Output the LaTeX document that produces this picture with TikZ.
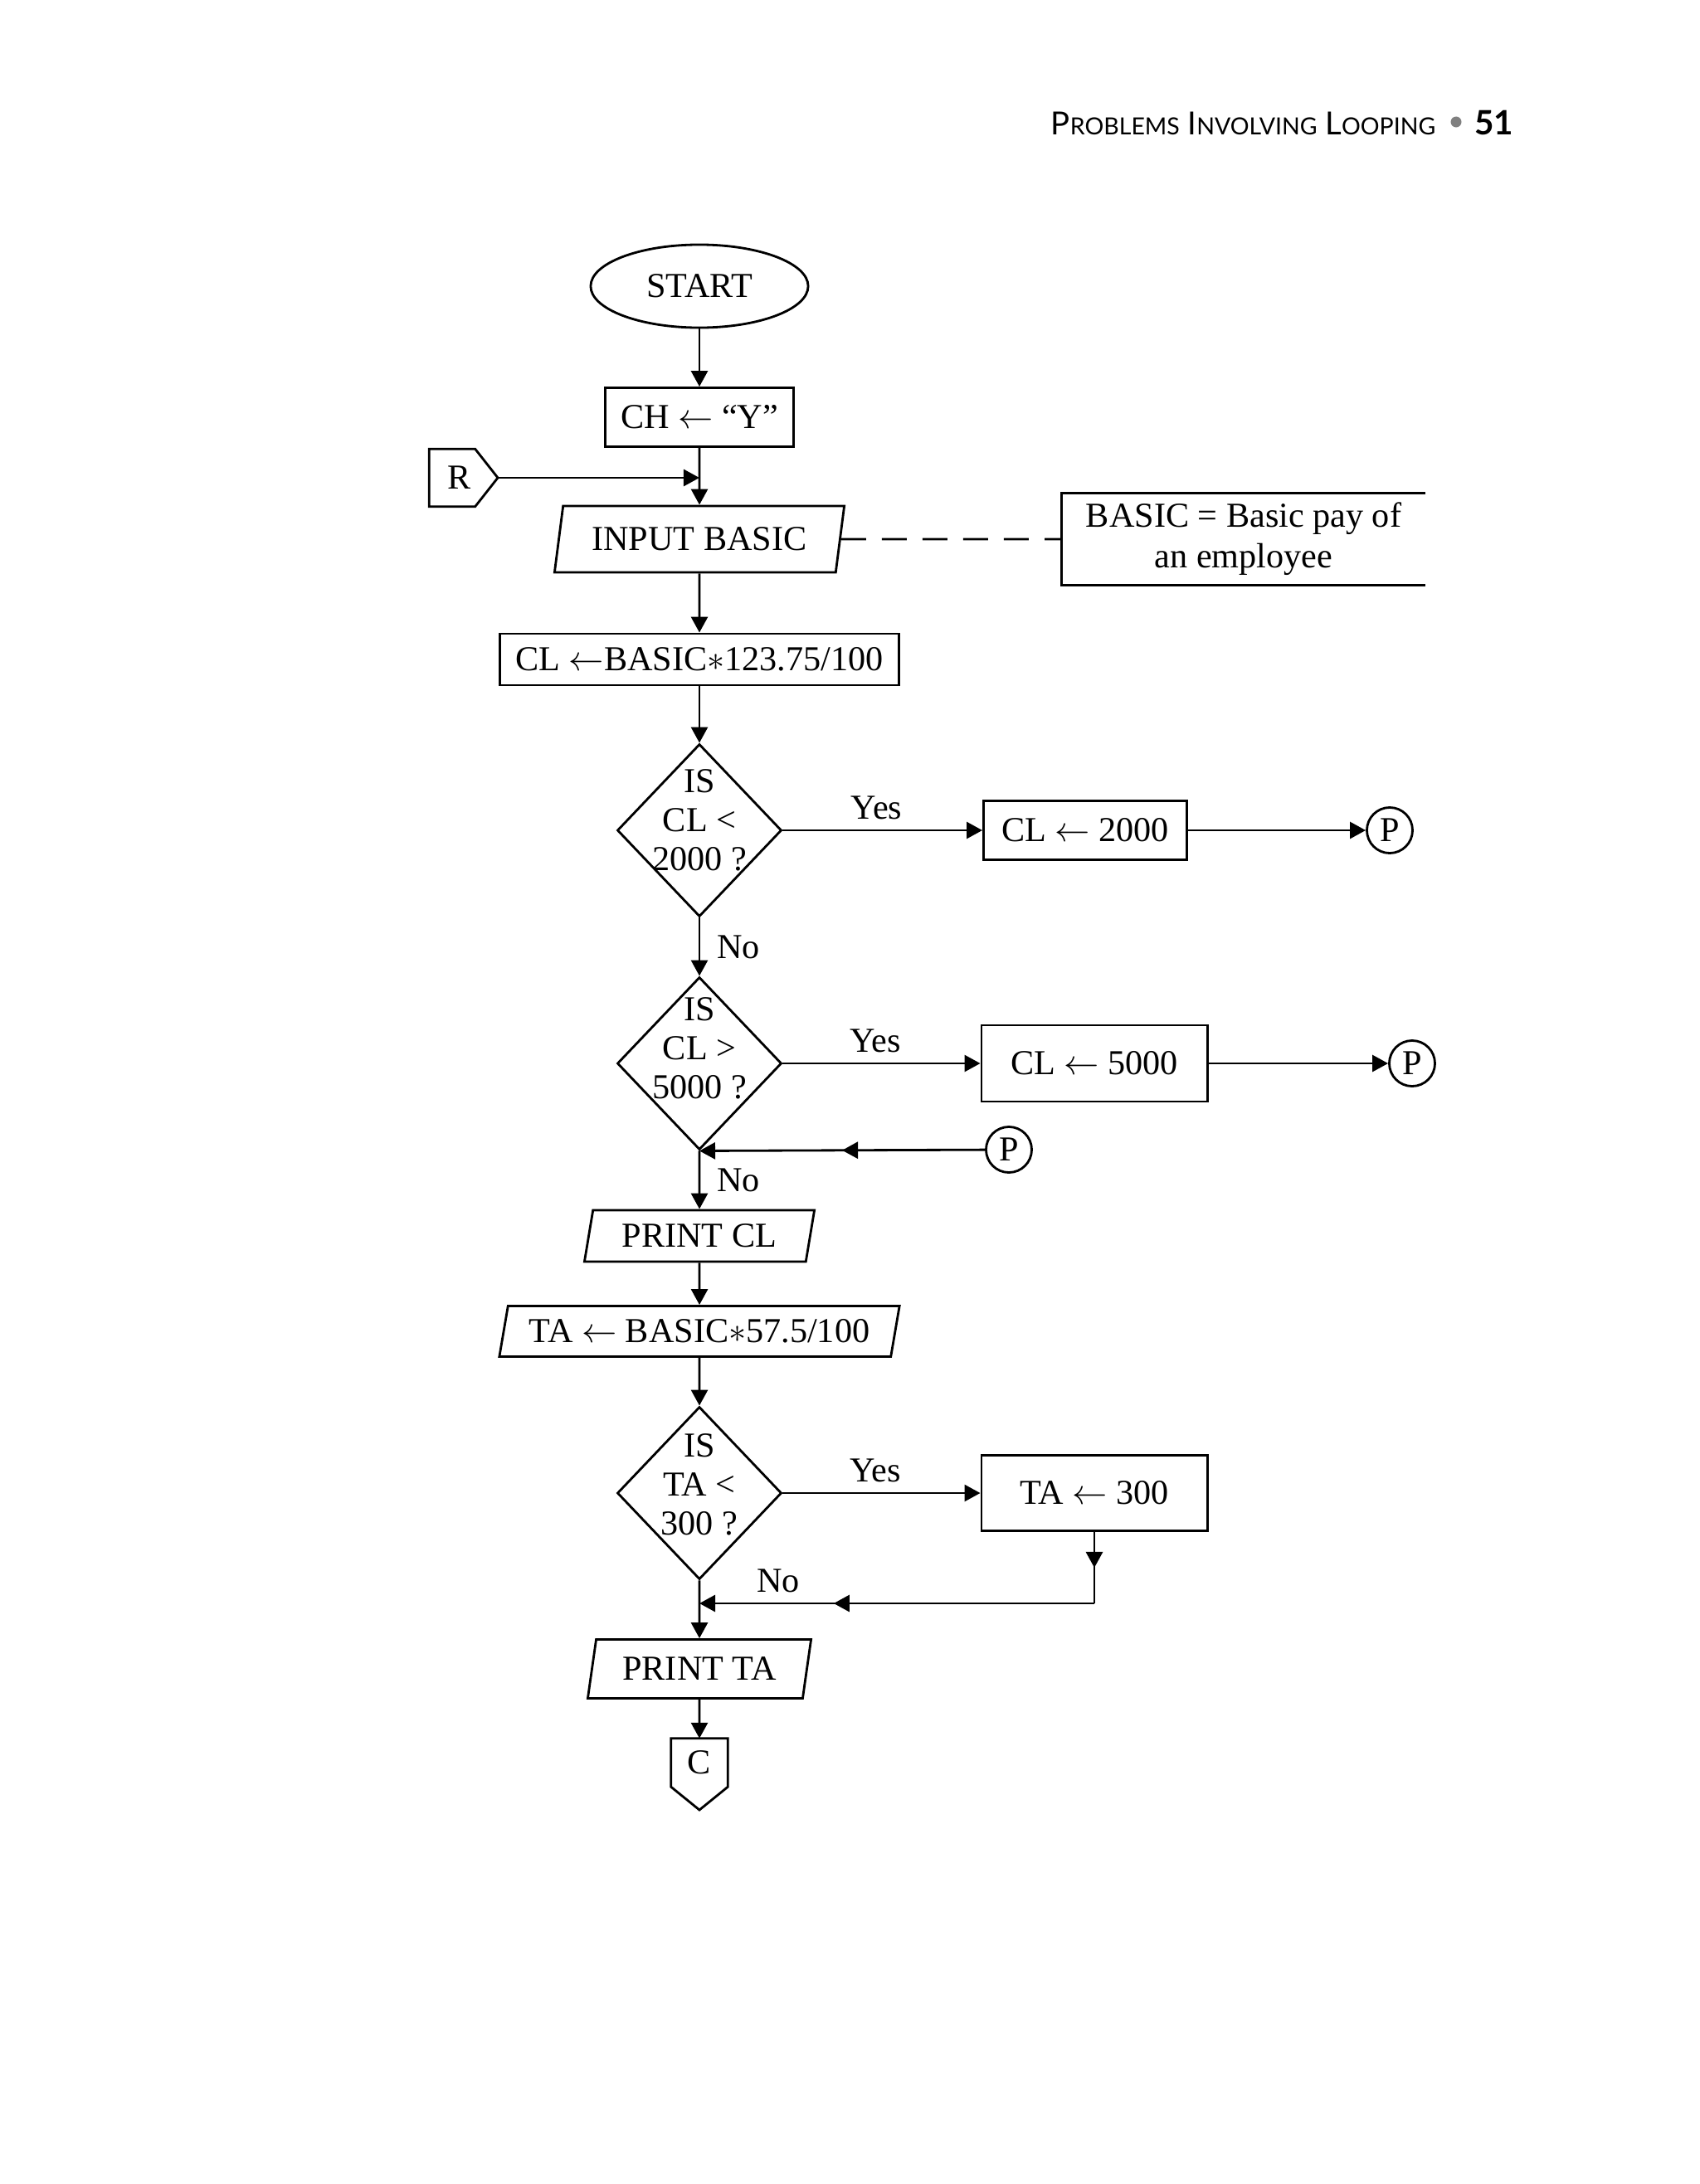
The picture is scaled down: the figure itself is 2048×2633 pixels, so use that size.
\documentclass[tikz,border=0pt]{standalone}
\usepackage{fontspec}
\setmainfont{Liberation Serif}
\newfontfamily\headfont{Lato}
\usepackage{tikz}
\usetikzlibrary{calc}
\usetikzlibrary{arrows.meta}
\usetikzlibrary{decorations.markings}
\usetikzlibrary{shapes.geometric}
\usetikzlibrary{positioning}

\begin{document}
\begin{tikzpicture}[x=0.01cm,y=-0.01cm,
            every node/.style={font=\fontsize{12}{13.4}\selectfont},
            plain/.style={line width=0.8pt},
            flow/.style={line width=0.8pt,-{Triangle[length=1.9mm,width=2mm]}},
            midtip/.style={postaction={decorate},decoration={markings,mark=at position #1 with {\arrow{Triangle[length=1.9mm,width=2mm]}}}},
            proc/.style={draw,line width=0.8pt,rectangle,inner sep=0pt},
            io/.style={draw,line width=0.8pt,trapezium,trapezium left angle=70,trapezium right angle=110,trapezium stretches body,inner sep=0pt},
            decision/.style={draw,line width=0.8pt,diamond,inner sep=0pt,minimum width=1.98cm,minimum height=2.08cm},
            dtext/.style={align=center,inner sep=0pt},
            conn/.style={draw,line width=0.8pt,circle,inner sep=0pt,minimum size=0.55cm},
            nolabel/.style={right,xshift=0.08cm}]
            \useasboundingbox (0,0) rectangle (2048,2633);

            \node[anchor=base east,inner sep=0pt,font=\headfont\fontsize{10.9}{13}\selectfont] (head) at (1731,162) {P{\fontsize{8.1}{10}\selectfont ROBLEMS} I{\fontsize{8.1}{10}\selectfont NVOLVING} L{\fontsize{8.1}{10}\selectfont OOPING}};
            \node[circle,fill=gray,inner sep=0pt,minimum size=0.13cm] (dot) at (1755,147) {};
            \node[anchor=base east,inner sep=0pt,font=\headfont\bfseries\fontsize{11.5}{14}\selectfont] (pg) at (1825,162) {51};

            \node[draw,line width=0.8pt,ellipse,inner sep=0pt,minimum width=2.62cm,minimum height=1cm] (start) at (843,345) {START};
            \node[proc,minimum width=2.27cm,minimum height=0.71cm] (ch) at (843,503) {CH $\leftarrow$ “Y”};
            \node[io,minimum width=3.49cm,minimum height=0.8cm] (inp) at (843,650) {INPUT BASIC};
            \node[inner sep=0pt,minimum width=4.37cm,minimum height=1.09cm,align=center,font=\fontsize{12}{14}\selectfont] (ann) at (1499,650) {BASIC = Basic pay of\\an employee};
            \node[proc,minimum width=4.8cm,minimum height=0.62cm] (cl) at (843,795) {CL $\leftarrow$BASIC$\ast$123.75/100};

            \node[decision] (d1) at (843,1001) {};
            \node[dtext] (d1t) at ([yshift=0.12cm]d1) {IS\\CL <\\2000 ?};
            \node[proc,minimum width=2.45cm,minimum height=0.71cm] (b1) at (1308,1001) {CL $\leftarrow$ 2000};
            \node[conn] (p1) at (1675,1001) {P};

            \node[decision] (d2) at (843,1282) {};
            \node[dtext] (d2t) at ([yshift=0.18cm]d2) {IS\\CL >\\5000 ?};
            \node[proc,minimum width=2.72cm,minimum height=0.92cm] (b2) at (1319,1282) {CL $\leftarrow$ 5000};
            \node[conn] (p2) at (1702,1282) {P};
            \node[conn] (p3) at (1216,1386) {P};

            \node[io,minimum width=2.77cm,minimum height=0.62cm] (pcl) at (843,1490) {PRINT CL};
            \node[io,minimum width=4.82cm,minimum height=0.61cm] (ta) at (843,1605) {TA $\leftarrow$ BASIC$\ast$57.5/100};

            \node[decision] (d3) at (843,1800) {};
            \node[dtext] (d3t) at ([yshift=0.1cm]d3) {IS\\TA <\\300 ?};
            \node[proc,minimum width=2.72cm,minimum height=0.91cm] (b3) at (1319,1800) {TA $\leftarrow$ 300};

            \node[io,minimum width=2.69cm,minimum height=0.71cm] (pta) at (843,2012) {PRINT TA};

            \coordinate (rtip) at (600,576);
            \node[inner sep=0pt,minimum width=0.56cm,minimum height=0.68cm] (rcon) at (546,576) {\hspace{0.16cm}R};
            \draw[plain] (rcon.north west) -- ([xshift=-0.02cm]rcon.north east) -- (rtip) -- ([xshift=-0.02cm]rcon.south east) -- (rcon.south west) -- cycle;

            \coordinate (ctip) at (843,2182);
            \node[inner sep=0pt,minimum width=0.67cm,minimum height=0.57cm] (ccon) at (843,2125) {\raisebox{-0.06cm}{C}};
            \draw[plain] (ccon.north west) -- (ccon.north east) -- (ccon.south east) -- (ctip) -- (ccon.south west) -- cycle;

            \draw[flow] (start) -- (ch);
            \draw[flow] (ch) -- (inp);
            \draw[flow] (rtip) -- (rtip -| ch.south);
            \draw[plain,dash pattern=on 0.3cm off 0.19cm] (inp.east) -- (ann.west);
            \draw[plain] (ann.north east) -- (ann.north west) -- (ann.south west) -- (ann.south east);
            \draw[flow] (inp) -- (cl);
            \draw[flow] (cl) -- (d1);
            \draw[flow] (d1) -- node[above,pos=0.47] {Yes} (b1);
            \draw[flow] (b1) -- (p1);
            \draw[flow] (d1) -- node[nolabel] {No} (d2);
            \draw[flow] (d2) -- node[above,pos=0.47] {Yes} (b2);
            \draw[flow] (b2) -- (p2);
            \draw[flow,midtip=0.5] (p3) -- (d2.south);
            \draw[flow] (d2) -- node[nolabel] {No} (pcl);
            \draw[flow] (pcl) -- (ta);
            \draw[flow] (ta) -- (d3);
            \draw[flow] (d3) -- node[above,pos=0.47] {Yes} (b3);
            \coordinate (k3) at (b3.south |- 0,1933);
            \coordinate (j3) at (d3.south |- k3);
            \draw[plain,midtip=0.5] (b3.south) -- (k3);
            \draw[flow,midtip=0.66] (k3) -- node[pos=0.8,above] {No} (j3);
            \draw[flow] (d3) -- (pta);
            \draw[flow] (pta) -- (ccon);
        \end{tikzpicture}
\end{document}
